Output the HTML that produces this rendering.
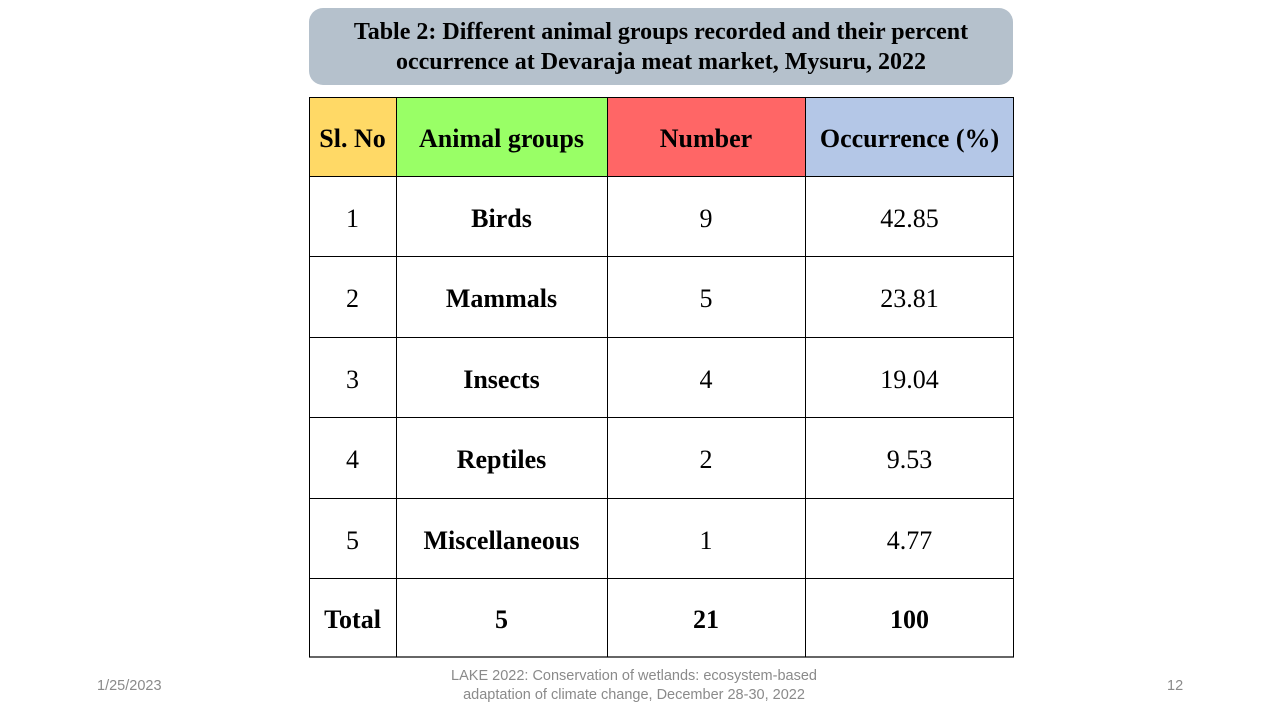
<!DOCTYPE html>
<html><head><meta charset="utf-8"><style>
body{margin:0;width:1280px;height:720px;background:#fff;position:relative;overflow:hidden;font-family:"Liberation Serif",serif}
.t{position:absolute;left:309px;top:8px;width:704px;height:77px;background:#b5c1cc;border-radius:14px;text-align:center;font-weight:bold;font-size:24px;line-height:30px;padding-top:9px;box-sizing:border-box;color:#000}
.c{position:absolute;display:flex;align-items:center;justify-content:center;font-size:26px;color:#000;box-sizing:border-box;padding-top:5px}
.b{font-weight:bold}
.h{position:absolute;background:#000;height:1px}
.v{position:absolute;background:#000;width:1px;top:97px;height:560px}
.f{position:absolute;font-family:"Liberation Sans",sans-serif;color:#8a8a8a;font-size:14.5px}
</style></head><body>
<div class="t">Table 2: Different animal groups recorded and their percent<br>occurrence at Devaraja meat market, Mysuru, 2022</div>
<div class="c b" style="left:309px;top:97px;width:87px;height:79px;background:#ffd966">Sl. No</div>
<div class="c b" style="left:396px;top:97px;width:211px;height:79px;background:#99ff66">Animal groups</div>
<div class="c b" style="left:607px;top:97px;width:198px;height:79px;background:#ff6666">Number</div>
<div class="c b" style="left:805px;top:97px;width:209px;height:79px;background:#b4c7e7">Occurrence (%)</div>

<div class="c" style="left:309px;top:176px;width:87px;height:80px">1</div>
<div class="c b" style="left:396px;top:176px;width:211px;height:80px">Birds</div>
<div class="c" style="left:607px;top:176px;width:198px;height:80px">9</div>
<div class="c" style="left:805px;top:176px;width:209px;height:80px">42.85</div>

<div class="c" style="left:309px;top:256px;width:87px;height:81px">2</div>
<div class="c b" style="left:396px;top:256px;width:211px;height:81px">Mammals</div>
<div class="c" style="left:607px;top:256px;width:198px;height:81px">5</div>
<div class="c" style="left:805px;top:256px;width:209px;height:81px">23.81</div>

<div class="c" style="left:309px;top:337px;width:87px;height:80px">3</div>
<div class="c b" style="left:396px;top:337px;width:211px;height:80px">Insects</div>
<div class="c" style="left:607px;top:337px;width:198px;height:80px">4</div>
<div class="c" style="left:805px;top:337px;width:209px;height:80px">19.04</div>

<div class="c" style="left:309px;top:417px;width:87px;height:81px">4</div>
<div class="c b" style="left:396px;top:417px;width:211px;height:81px">Reptiles</div>
<div class="c" style="left:607px;top:417px;width:198px;height:81px">2</div>
<div class="c" style="left:805px;top:417px;width:209px;height:81px">9.53</div>

<div class="c" style="left:309px;top:498px;width:87px;height:80px">5</div>
<div class="c b" style="left:396px;top:498px;width:211px;height:80px">Miscellaneous</div>
<div class="c" style="left:607px;top:498px;width:198px;height:80px">1</div>
<div class="c" style="left:805px;top:498px;width:209px;height:80px">4.77</div>

<div class="c b" style="left:309px;top:578px;width:87px;height:78px">Total</div>
<div class="c b" style="left:396px;top:578px;width:211px;height:78px">5</div>
<div class="c b" style="left:607px;top:578px;width:198px;height:78px">21</div>
<div class="c b" style="left:805px;top:578px;width:209px;height:78px">100</div>

<div class="h" style="left:309px;top:97px;width:705px"></div>
<div class="h" style="left:309px;top:176px;width:705px"></div>
<div class="h" style="left:309px;top:256px;width:705px"></div>
<div class="h" style="left:309px;top:337px;width:705px"></div>
<div class="h" style="left:309px;top:417px;width:705px"></div>
<div class="h" style="left:309px;top:498px;width:705px"></div>
<div class="h" style="left:309px;top:578px;width:705px"></div>
<div class="h" style="left:309px;top:656px;width:705px;height:2px;background:#666"></div>
<div class="v" style="left:309px"></div>
<div class="v" style="left:396px"></div>
<div class="v" style="left:607px"></div>
<div class="v" style="left:805px"></div>
<div class="v" style="left:1013px"></div>

<div class="f" style="left:97px;top:678px">1/25/2023</div>
<div class="f" style="left:400px;top:667px;width:468px;text-align:center;line-height:19px">LAKE 2022: Conservation of wetlands: ecosystem-based<br>adaptation of climate change, December 28-30, 2022</div>
<div class="f" style="left:1167px;top:678px">12</div>
</body></html>
